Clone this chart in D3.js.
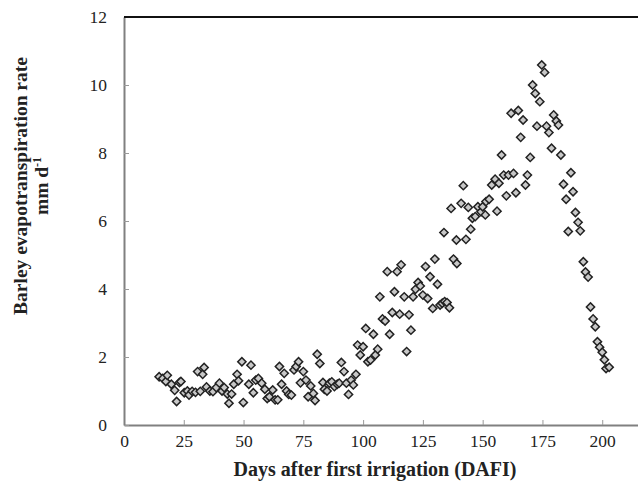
<!DOCTYPE html>
<html>
<head>
<meta charset="utf-8">
<script src="https://cdn.jsdelivr.net/npm/d3@7"></script>
<style>
  body { margin: 0; background: #fff; }
  svg { display: block; }
  text { font-family: "Liberation Serif", "Times New Roman", serif; fill: #222; }
</style>
</head>
<body>
<svg id="chart"></svg>
<script>
// day after first irrigation
let days = [
  14.7, 16.2, 17.5, 18.1, 19.8, 21.2, 22.0, 23.2, 23.8, 25.2, 26.5, 27.2, 28.5, 29.9, 30.8, 31.9,
  32.9, 33.5, 34.5, 35.9, 37.2, 38.6, 39.9, 41.0, 41.9, 43.2, 43.9, 45.0, 45.9, 47.3, 47.9, 49.3, 49.9,
  52.2, 53.1, 54.1, 55.1, 56.2, 57.6, 58.9, 59.9, 60.8, 62.2, 63.2, 64.3, 65.0, 65.9, 67.0, 68.0,
  68.9, 70.0, 71.1, 72.0, 73.0, 73.8, 75.0, 76.1, 77.0, 78.1, 79.2, 79.9, 80.8, 81.9, 83.2, 83.8,
  84.9, 85.9, 86.9, 88.0, 89.2, 90.0, 90.9, 92.0, 93.0, 93.9, 95.0, 95.9, 97.0, 97.7, 98.8,
  100.0, 101.1, 102.0, 103.1, 104.3, 105.1, 106.1, 107.0, 108.1, 109.2, 110.1, 111.1, 112.2, 113.1,
  114.2, 115.3, 115.9, 117.2, 118.2, 119.2, 120.0, 120.9, 121.9, 123.0, 123.9, 125.0, 126.1, 127.0,
  128.0, 129.1, 130.0, 131.1, 132.2, 133.1, 134.1, 135.1, 136.1, 137.8, 139.2,
  133.8, 139.0, 143.0, 145.0, 136.8, 141.0, 141.9, 144.0, 145.7, 146.9, 148.0, 149.3, 150.0, 151.1,
  151.4, 152.7, 153.8, 155.2, 156.0, 156.8, 157.9, 158.8, 159.9, 160.8, 162.9, 163.9, 167.9, 168.7, 169.9,
  174.7, 175.9, 170.9, 172.0, 173.9, 161.9, 164.9, 166.9, 165.9, 172.7, 176.7, 177.7, 179.7, 180.8,
  181.7, 178.8, 182.7, 186.9, 183.8, 187.8, 184.9, 188.8, 189.9, 185.8, 190.8,
  192.1, 193.0, 194.1, 195.1, 196.2, 197.1, 198.0, 198.9, 200.0, 200.9, 201.6, 202.9
];
// ET rate, mm/d
let etRate = [
  1.42, 1.37, 1.28, 1.46, 1.20, 1.02, 0.69, 1.25, 1.28, 0.95, 1.00, 0.88, 0.99, 0.96, 1.57, 0.99,
  1.49, 1.69, 1.12, 1.00, 0.98, 1.10, 1.23, 1.00, 1.10, 0.91, 0.64, 0.91, 1.20, 1.49, 1.30, 1.86, 0.66,
  1.20, 1.76, 0.95, 1.32, 1.37, 1.23, 1.05, 0.78, 0.83, 1.03, 0.74, 0.74, 1.72, 1.20, 1.52, 1.00,
  0.90, 0.88, 1.62, 1.72, 1.86, 1.24, 1.57, 1.32, 0.83, 1.15, 0.93, 0.72, 2.08, 1.81, 1.25, 1.05,
  1.00, 1.23, 1.27, 1.13, 1.20, 1.23, 1.84, 1.57, 1.23, 0.90, 1.32, 1.18, 1.49, 2.35, 2.06,
  2.30, 2.84, 1.86, 1.91, 2.67, 2.06, 2.23, 3.77, 3.12, 3.06, 4.51, 2.67, 3.31, 3.92,
  4.51, 3.26, 4.71, 3.77, 2.16, 3.24, 2.79, 3.77, 3.99, 4.19, 4.09, 3.82, 4.66, 3.72,
  4.36, 3.43, 4.88, 4.14, 3.53, 3.58, 3.63, 3.60, 3.45, 4.88, 4.75,
  5.66, 5.44, 5.46, 5.76, 6.37, 6.52, 7.04, 6.40, 6.08, 6.13, 6.42, 6.27, 6.42, 6.18,
  6.57, 6.64, 7.06, 7.23, 6.29, 7.11, 7.94, 7.35, 6.74, 7.35, 7.40, 6.83, 7.06, 7.35, 7.87,
  10.59, 10.37, 10.00, 9.75, 9.51, 9.17, 9.25, 8.97, 8.46, 8.79, 8.79, 8.60, 9.12, 8.94,
  8.82, 8.14, 7.94, 7.42, 7.08, 6.86, 6.64, 6.25, 5.96, 5.69, 5.71,
  4.80, 4.50, 4.35, 3.47, 3.12, 2.89, 2.45, 2.29, 2.14, 1.92, 1.66, 1.70
];
let xTicks = [0, 25, 50, 75, 100, 125, 150, 175, 200];
let yTicks = [0, 2, 4, 6, 8, 10, 12];

let width = 638, height = 490;
let svg = d3.select("#chart").attr("width", width).attr("height", height);

let x = d3.scaleLinear().domain([0, 225]).range([124, 662]);
let y = d3.scaleLinear().domain([0, 12]).range([425, 17]);

// x axis, ticks pointing up into the plot
let xAxis = svg.append("g").attr("transform", "translate(0," + y(0) + ")")
  .call(d3.axisBottom(x).tickValues(xTicks).tickSize(-5).tickPadding(10).tickSizeOuter(0));
xAxis.select(".domain").attr("stroke", "#808080").attr("stroke-width", 2);
xAxis.selectAll(".tick line").attr("stroke", "#999").attr("stroke-width", 1);
xAxis.selectAll(".tick text").attr("font-size", 17.5).attr("fill", "#222")
  .style("font-family", "Liberation Serif");

// y axis, ticks pointing right into the plot
let yAxis = svg.append("g").attr("transform", "translate(" + x(0) + ",0)")
  .call(d3.axisLeft(y).tickValues(yTicks).tickSize(-5).tickPadding(17).tickSizeOuter(0));
yAxis.select(".domain").attr("stroke", "#808080").attr("stroke-width", 2);
yAxis.selectAll(".tick line").attr("stroke", "#999").attr("stroke-width", 1);
yAxis.selectAll(".tick text").attr("font-size", 17.5).attr("fill", "#222")
  .style("font-family", "Liberation Serif");

// top border of plot area
svg.append("line")
  .attr("x1", x(0)).attr("x2", width)
  .attr("y1", y(12)).attr("y2", y(12))
  .attr("stroke", "#111").attr("stroke-width", 2);

// points
let pts = days.map((d, i) => ({day: d, et: etRate[i]}));
let diamond = d3.symbol().type(d3.symbolSquare).size(34);
svg.append("g").selectAll("path")
  .data(pts)
  .enter().append("path")
  .attr("d", diamond)
  .attr("transform", d => "translate(" + x(d.day) + "," + y(d.et) + ") rotate(45)")
  .attr("fill", "#c8c8c8")
  .attr("stroke", "#222")
  .attr("stroke-width", 1.5);

// axis titles
svg.append("text")
  .attr("x", 375).attr("y", 476)
  .attr("text-anchor", "middle")
  .attr("font-size", 20).attr("font-weight", "bold")
  .text("Days after first irrigation (DAFI)");

let yTitle = svg.append("g").attr("transform", "translate(27,186) rotate(-90)");
yTitle.append("text")
  .attr("x", 0).attr("y", 0)
  .attr("text-anchor", "middle")
  .attr("font-size", 19.5).attr("font-weight", "bold")
  .text("Barley evapotranspiration rate");
let unit = yTitle.append("text")
  .attr("x", 0).attr("y", 21)
  .attr("text-anchor", "middle")
  .attr("font-size", 19.5).attr("font-weight", "bold");
unit.append("tspan").text("mm d");
unit.append("tspan").attr("dy", -7).attr("font-size", 12).text("-1");
</script>
</body>
</html>
